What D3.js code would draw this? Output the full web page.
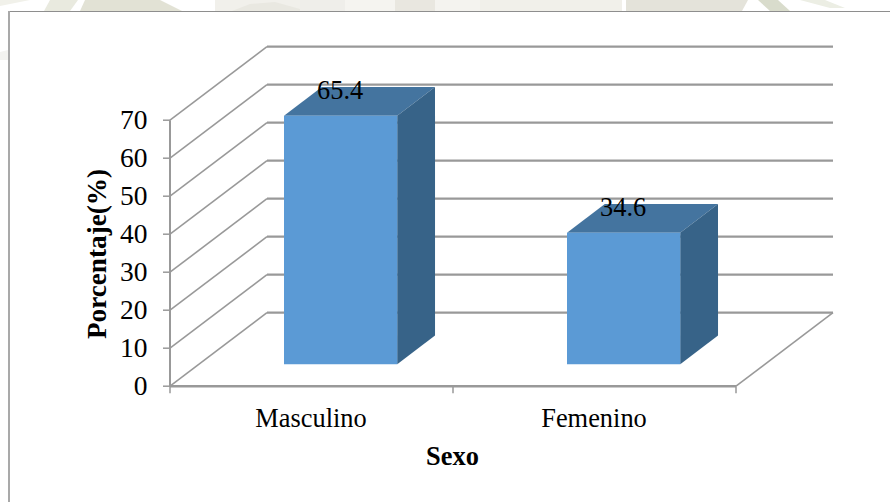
<!DOCTYPE html>
<html>
<head>
<meta charset="utf-8">
<script src="https://cdn.jsdelivr.net/npm/d3@7"></script>
<style>
  html, body { margin: 0; padding: 0; background: #fff; }
  svg { display: block; }
  text { font-family: "Liberation Serif", "Times New Roman", serif; fill: #000; }
</style>
</head>
<body>
<svg id="chart" width="890" height="502"></svg>
<script>
// Chart values
const categories = ["Masculino", "Femenino"];
const percentages = [65.4, 34.6];
const yTicks = [0, 10, 20, 30, 40, 50, 60, 70];
const xTitle = "Sexo";
const yTitle = "Porcentaje(%)";

// Pale letterhead pattern showing above the chart frame
const backdropShapes = [
  { points: "0,0 30,0 0,6", fill: "#f1f1ea" },
  { points: "50,0 78,0 70,11 44,11", fill: "#e9eadf" },
  { points: "85,0 160,0 182,11 80,11", fill: "#e2e2d5" },
  { points: "215,0 300,0 300,11 215,11", fill: "#f1f0eb" },
  { points: "232,11 250,4 275,2 300,9 300,11", fill: "#e9e8e1" },
  { points: "300,0 345,0 345,11 300,11", fill: "#efeeea" },
  { points: "345,0 395,0 395,11 345,11", fill: "#f5f4f0" },
  { points: "395,0 435,0 435,11 395,11", fill: "#e9e7e0" },
  { points: "435,0 480,0 480,11 435,11", fill: "#f4f3ef" },
  { points: "480,0 622,0 622,11 480,11", fill: "#f1f0ea" },
  { points: "626,0 748,0 742,11 626,11", fill: "#e4e3da" },
  { points: "758,0 778,0 790,11 770,11", fill: "#d9dccc" },
  { points: "800,0 825,0 845,8 830,8", fill: "#eceee4" },
  { points: "0,52 8,50 8,60 0,60", fill: "#f3f3f0" }
];

const svg = d3.select("#chart");

// Plot geometry: front plane of the box plus the oblique depth vector
const plot = { left: 170, right: 736, bottom: 386.2, top: 120.2 };
const depth = { dx: 97, dy: 73.5 };
const barDepth = { front: 0.3, back: 0.69 };

const x = d3.scaleBand()
  .domain(categories)
  .range([plot.left, plot.right])
  .paddingInner(0.6)
  .paddingOuter(0.3);
const xGroup = d3.scaleBand().domain(categories).range([plot.left, plot.right]);
const y = d3.scaleLinear().domain([0, 70]).range([plot.bottom, plot.top]);

// Projects a point in plot space (pixel x, value, depth 0..1) to the page
const project = (px, value, d) => [px + d * depth.dx, y(value) - d * depth.dy];
const polygon = pts => pts.map(p => p.join(",")).join(" ");

// Backdrop and chart frame
svg.append("g").selectAll("polygon").data(backdropShapes).join("polygon")
  .attr("points", d => d.points)
  .attr("fill", d => d.fill);
svg.append("rect").attr("x", 9).attr("y", 11).attr("width", 881).attr("height", 491).attr("fill", "#fff");
svg.append("line").attr("x1", 8).attr("x2", 890).attr("y1", 11.5).attr("y2", 11.5)
  .attr("stroke", "#8e8e8e").attr("stroke-width", 1);
svg.append("line").attr("x1", 9).attr("x2", 9).attr("y1", 11).attr("y2", 502)
  .attr("stroke", "#a9a9a9").attr("stroke-width", 2);

// Side-wall and back-wall gridlines
const gridColor = "#999999";
const wallWidth = 1.6;
const backWidth = 2.2;
const wallLines = yTicks.slice(1);
svg.append("g").selectAll("line").data(wallLines).join("line")
  .attr("x1", plot.left).attr("y1", v => y(v))
  .attr("x2", v => project(plot.left, v, 1)[0]).attr("y2", v => project(plot.left, v, 1)[1])
  .attr("stroke", gridColor).attr("stroke-width", wallWidth);
svg.append("g").selectAll("line").data(wallLines).join("line")
  .attr("x1", v => project(plot.left, v, 1)[0]).attr("y1", v => project(plot.left, v, 1)[1])
  .attr("x2", v => project(plot.right, v, 1)[0]).attr("y2", v => project(plot.right, v, 1)[1])
  .attr("stroke", gridColor).attr("stroke-width", backWidth);

// Floor outline
svg.append("line")
  .attr("x1", project(plot.left, 0, 1)[0]).attr("y1", project(plot.left, 0, 1)[1])
  .attr("x2", project(plot.right, 0, 1)[0]).attr("y2", project(plot.right, 0, 1)[1])
  .attr("stroke", gridColor).attr("stroke-width", backWidth);
svg.append("line")
  .attr("x1", project(plot.right, 0, 1)[0]).attr("y1", project(plot.right, 0, 1)[1])
  .attr("x2", project(plot.right, 0, 0)[0]).attr("y2", project(plot.right, 0, 0)[1])
  .attr("stroke", gridColor).attr("stroke-width", wallWidth);
svg.append("line")
  .attr("x1", project(plot.left, 0, 0)[0]).attr("y1", project(plot.left, 0, 0)[1])
  .attr("x2", project(plot.left, 0, 1)[0]).attr("y2", project(plot.left, 0, 1)[1])
  .attr("stroke", gridColor).attr("stroke-width", wallWidth);

// Value axis
svg.append("line")
  .attr("x1", plot.left).attr("x2", plot.left)
  .attr("y1", y(70)).attr("y2", y(0))
  .attr("stroke", gridColor).attr("stroke-width", 2);
svg.append("g").selectAll("line").data(yTicks).join("line")
  .attr("x1", plot.left - 7).attr("x2", plot.left)
  .attr("y1", d => y(d)).attr("y2", d => y(d))
  .attr("stroke", gridColor).attr("stroke-width", 1.5);
svg.append("g").selectAll("text").data(yTicks).join("text")
  .attr("x", 147.5)
  .attr("y", d => y(d))
  .attr("dy", "0.33em")
  .attr("text-anchor", "end")
  .attr("font-size", 27.5)
  .text(d => d);

// Category axis
svg.append("line")
  .attr("x1", plot.left).attr("x2", plot.right)
  .attr("y1", y(0)).attr("y2", y(0))
  .attr("stroke", gridColor).attr("stroke-width", 2.4);
const xTicks = [plot.left, ...categories.map(c => xGroup(c) + xGroup.bandwidth())];
svg.append("g").selectAll("line").data(xTicks).join("line")
  .attr("x1", d => d).attr("x2", d => d)
  .attr("y1", y(0)).attr("y2", y(0) + 7)
  .attr("stroke", gridColor).attr("stroke-width", 1.5);
svg.append("g").selectAll("text").data(categories).join("text")
  .attr("x", d => xGroup(d) + xGroup.bandwidth() / 2 - 0.5)
  .attr("y", 427)
  .attr("text-anchor", "middle")
  .attr("font-size", 26.4)
  .text(d => d);

// 3D bars: top, side, then front face
const bars = svg.append("g").selectAll("g")
  .data(categories.map((c, i) => ({ category: c, value: percentages[i] })))
  .join("g");
bars.append("polygon")
  .attr("fill", "#44749f")
  .attr("points", d => {
    const a = x(d.category), b = a + x.bandwidth();
    return polygon([
      project(a, d.value, barDepth.front),
      project(a, d.value, barDepth.back),
      project(b, d.value, barDepth.back),
      project(b, d.value, barDepth.front)
    ]);
  });
bars.append("polygon")
  .attr("fill", "#376388")
  .attr("points", d => {
    const b = x(d.category) + x.bandwidth();
    return polygon([
      project(b, d.value, barDepth.front),
      project(b, d.value, barDepth.back),
      project(b, 0, barDepth.back),
      project(b, 0, barDepth.front)
    ]);
  });
bars.append("polygon")
  .attr("fill", "#5b9ad5")
  .attr("points", d => {
    const a = x(d.category), b = a + x.bandwidth();
    return polygon([
      project(a, d.value, barDepth.front),
      project(b, d.value, barDepth.front),
      project(b, 0, barDepth.front),
      project(a, 0, barDepth.front)
    ]);
  });
bars.append("text")
  .attr("x", d => project(x(d.category) + x.bandwidth() / 2, d.value, barDepth.front)[0] - 0.5)
  .attr("y", d => project(x(d.category), d.value, barDepth.front)[1] - 16.5)
  .attr("text-anchor", "middle")
  .attr("font-size", 26.4)
  .text(d => d.value);

// Axis titles
svg.append("text")
  .attr("x", 452.5).attr("y", 465)
  .attr("text-anchor", "middle")
  .attr("font-size", 26.4).attr("font-weight", "bold")
  .text(xTitle);
svg.append("text")
  .attr("transform", "translate(105.5,254) rotate(-90)")
  .attr("text-anchor", "middle")
  .attr("font-size", 27.2).attr("font-weight", "bold")
  .text(yTitle);
</script>
</body>
</html>
